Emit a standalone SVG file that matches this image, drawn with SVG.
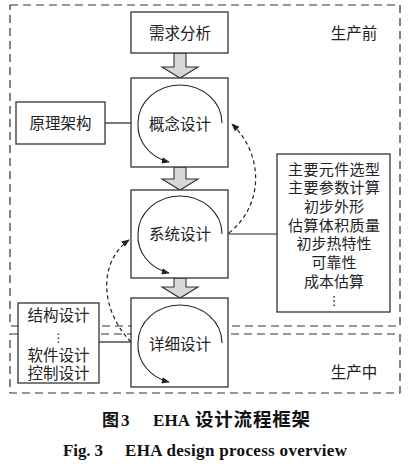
<svg xmlns="http://www.w3.org/2000/svg" width="410" height="464" viewBox="0 0 410 464">
<style>
.box{fill:#fff;stroke:#333;stroke-width:1.3}
.zone{fill:none;stroke:#333;stroke-width:1.2;stroke-dasharray:8 5}
.t{font-family:"Noto Sans CJK SC",sans-serif;font-size:15.5px;fill:#222;text-anchor:middle}
.s{font-size:15px}
.line{fill:none;stroke:#222;stroke-width:1.2}
.loop{fill:none;stroke:#222;stroke-width:1.1;marker-end:url(#ah)}
.dash{fill:none;stroke:#222;stroke-width:1.2;stroke-dasharray:4 3;marker-end:url(#ah)}
.blk{fill:#d8d8d8;stroke:#333;stroke-width:1.1}
</style>
<defs>
<marker id="ah" viewBox="0 0 10 8" refX="9" refY="4" markerWidth="8" markerHeight="6.4" markerUnits="userSpaceOnUse" orient="auto">
<path d="M0,0 L10,4 L0,8 Z" fill="#222"/>
</marker>
</defs>
<rect width="410" height="464" fill="#fff"/>
<g id="zones">
<rect class="zone" x="10" y="5" width="390" height="321"/>
<rect class="zone" x="10" y="334" width="390" height="59"/>
<text class="t" x="354" y="38.5">生产前</text>
<text class="t" x="354" y="377.5">生产中</text>
</g>
<g id="connectors">
<line class="line" x1="105" y1="123" x2="131" y2="123"/>
<line class="line" x1="228" y1="234" x2="277" y2="234"/>
<line class="line" x1="99" y1="342" x2="131" y2="342"/>
<path class="blk" d="M174,53 L186,53 L186,67 L198,67 L180,78 L162,67 L174,67 Z"/>
<path class="blk" d="M174,167 L186,167 L186,179 L198,179 L180,190 L162,179 L174,179 Z"/>
<path class="blk" d="M174,278 L186,278 L186,287 L198,287 L180,298 L162,287 L174,287 Z"/>
<path class="dash" d="M229,233 C264,205 264,155 232,124"/>
<path class="dash" d="M131,342 C100,310 98,262 129,240"/>
</g>
<g id="req">
<rect class="box" x="131" y="12" width="97" height="41"/>
<text class="t" x="180" y="38.5">需求分析</text>
</g>
<g id="concept">
<rect class="box" x="131" y="78" width="97" height="89"/>
<path class="loop" d="M222,123 A42,38 0 0 0 138,123 A42,38 0 0 0 169,162"/>
<text class="t" x="180" y="129.5">概念设计</text>
</g>
<g id="system">
<rect class="box" x="131" y="190" width="97" height="88"/>
<path class="loop" d="M222,234 A42,38 0 0 0 138,234 A42,38 0 0 0 169,273"/>
<text class="t" x="180" y="240">系统设计</text>
</g>
<g id="detail">
<rect class="box" x="131" y="298" width="97" height="89"/>
<path class="loop" d="M222,343 A42,38 0 0 0 138,343 A42,38 0 0 0 169,382"/>
<text class="t" x="180" y="349.5">详细设计</text>
</g>
<g id="principle">
<rect class="box" x="16" y="102" width="89" height="42"/>
<text class="t" x="60.5" y="128.5">原理架构</text>
</g>
<g id="tasks">
<rect class="box" x="277" y="154" width="113" height="158"/>
<text class="t s" x="334" y="174.5" textLength="92">主要元件选型</text>
<text class="t s" x="334" y="193.2" textLength="92">主要参数计算</text>
<text class="t s" x="334" y="211.9">初步外形</text>
<text class="t s" x="334" y="230.6" textLength="92">估算体积质量</text>
<text class="t s" x="334" y="249.3">初步热特性</text>
<text class="t s" x="334" y="268">可靠性</text>
<text class="t s" x="334" y="286.7">成本估算</text>
<text class="t" x="334" y="304.5" style="font-family:'DejaVu Sans',sans-serif;font-size:13px">⋮</text>
</g>
<g id="design">
<rect class="box" x="18" y="303" width="81" height="80"/>
<text class="t" x="58.5" y="320.5">结构设计</text>
<text class="t" x="58.5" y="341.5" style="font-family:'DejaVu Sans',sans-serif;font-size:12px">⋮</text>
<text class="t" x="58.5" y="360.5">软件设计</text>
<text class="t" x="58.5" y="378.5">控制设计</text>
</g>
<g id="caption">
<text x="102" y="425.5" style="font-family:'Noto Sans CJK SC',sans-serif;font-size:17px;font-weight:bold;fill:#111">图</text>
<text x="121" y="425.5" style="font-family:'Liberation Serif',serif;font-size:17px;font-weight:bold;fill:#111">3</text>
<text x="153" y="425.5" textLength="37" style="font-family:'Liberation Serif',serif;font-size:17px;font-weight:bold;fill:#111">EHA</text>
<text x="195" y="425.5" textLength="115" style="font-family:'Noto Sans CJK SC',sans-serif;font-size:18.5px;font-weight:bold;fill:#111">设计流程框架</text>
<text x="63" y="456" textLength="40" style="font-family:'Liberation Serif',serif;font-size:17px;font-weight:bold;fill:#111">Fig. 3</text>
<text x="125" y="456" textLength="222" style="font-family:'Liberation Serif',serif;font-size:17px;font-weight:bold;fill:#111">EHA design process overview</text>
</g>
</svg>
